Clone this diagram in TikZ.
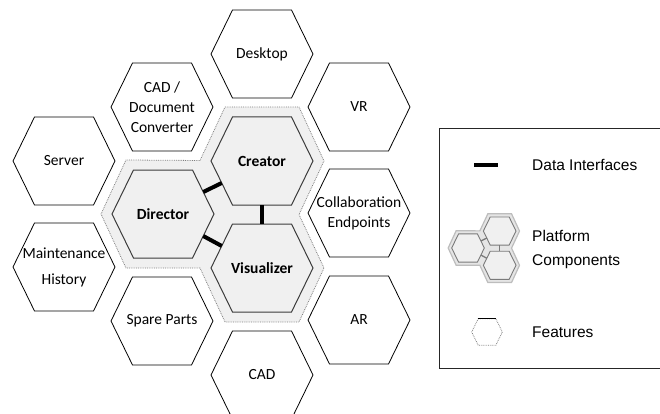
\documentclass[tikz,border=0pt]{standalone}
\usepackage{fontspec}
\setmainfont{Carlito}
\newfontfamily\legfont{Liberation Sans}
\usetikzlibrary{calc}
\definecolor{compfill}{HTML}{F0F0F0}
\definecolor{compedge}{HTML}{3C3C3C}
\definecolor{unionedge}{HTML}{7F7F7F}
\definecolor{minering}{HTML}{BDBDBD}
\definecolor{miniedge}{HTML}{7A7A7A}
% #1 hex line style, #2 text style, #3 name, #4 centre, #5 text
\newcommand\hexnode[5]{%
  \path (#4) +(-29.5,-44) coordinate (#3-tl) +(29.5,-44) coordinate (#3-tr)
        +(51,0) coordinate (#3-r) +(29.5,44) coordinate (#3-br)
        +(-29.5,44) coordinate (#3-bl) +(-51,0) coordinate (#3-l);
  \draw[#1] (#3-tl) -- (#3-tr) -- (#3-r) -- (#3-br) -- (#3-bl) -- (#3-l) -- cycle;
  \node[#2] (#3) at (#4) {#5};}
\begin{document}
\begin{tikzpicture}[x=1pt,y=-1pt,
  featbox/.style={align=center,inner sep=0pt,font=\fontsize{15.5}{20}\selectfont},
  featline/.style={draw=black,line width=0.8pt},
  compbox/.style={align=center,inner sep=0pt,font=\fontsize{15.5}{20}\selectfont\bfseries},
  compline/.style={draw=compedge,fill=compfill,line width=1pt},
  unionline/.style={draw=unionedge,fill=compfill,densely dotted,line width=0.8pt},
  iface/.style={line width=4pt,black},
  miniunion/.style={draw=minering,fill=compfill!90!gray,line width=1.2pt},
  minicomp/.style={draw=miniedge,fill=compfill,line width=0.9pt},
  miniiface/.style={draw=miniedge,line width=1.3pt},
  legtext/.style={anchor=west,align=left,inner sep=0pt,font=\legfont\fontsize{15.5}{24}\selectfont},
  legbox/.style={draw=black!85,line width=1pt}]
\useasboundingbox (0,0) rectangle (660,414);

% platform group background
\draw[unionline] (225,107) -- (299,107) -- (324,161) -- (299,214.5) -- (324,268)
  -- (299,322) -- (225,322) -- (200,268) -- (126,268) -- (101,214) -- (126,160)
  -- (200,160.5) -- cycle;

% platform components
\hexnode{compline}{compbox}{cre}{262,161}{Creator}
\hexnode{compline}{compbox}{dir}{163,214}{Director}
\hexnode{compline}{compbox}{vis}{262,268}{Visualizer}

% data interfaces
\draw[iface] ($(dir-tr)!.5!(dir-r)$) -- ($(cre-l)!.5!(cre-bl)$);
\draw[iface] ($(dir-br)!.5!(dir-r)$) -- ($(vis-l)!.5!(vis-tl)$);
\draw[iface] (cre.center |- cre-bl) -- (vis.center |- vis-tl);

% features
\hexnode{featline}{featbox}{desk}{262,54}{Desktop}
\hexnode{featline}{featbox}{conv}{162,107}{CAD /\\Document\\Converter}
\hexnode{featline}{featbox}{serv}{64,161}{Server}
\hexnode{featline}{featbox,font=\fontsize{15.5}{26}\selectfont}{maint}{64,267}{Maintenance\\History}
\hexnode{featline}{featbox}{spare}{162,321}{Spare Parts}
\hexnode{featline}{featbox}{cad}{262,375}{CAD}
\hexnode{featline}{featbox}{vr}{359,107}{VR}
\hexnode{featline}{featbox}{collab}{359,213}{Collaboration\\Endpoints}
\hexnode{featline}{featbox}{ar}{359,320}{AR}

% legend
\draw[legbox] (439,129) rectangle (663,368);
\coordinate (li1) at (474,165);
\coordinate (li2) at (498,165);
\draw[iface] (li1) -- (li2);
\node[legtext] (lt1) at (532,165) {Data Interfaces};

\begin{scope}[shift={(468,248)},scale=0.32]
  \draw[miniunion] (62,-107) -- (136,-107) -- (161,-53) -- (136,0.5) -- (161,54)
    -- (136,108) -- (62,108) -- (37,54) -- (-37,54) -- (-62,0) -- (-37,-54)
    -- (37,-53.5) -- cycle;
  \hexnode{minicomp}{inner sep=0pt}{mcre}{99,-53}{}
  \hexnode{minicomp}{inner sep=0pt}{mdir}{0,0}{}
  \hexnode{minicomp}{inner sep=0pt}{mvis}{99,54}{}
  \draw[miniiface] ($(mdir-tr)!.5!(mdir-r)$) -- ($(mcre-l)!.5!(mcre-bl)$);
  \draw[miniiface] ($(mdir-br)!.5!(mdir-r)$) -- ($(mvis-l)!.5!(mvis-tl)$);
  \draw[miniiface] (mcre.center |- mcre-bl) -- (mvis.center |- mvis-tl);
\end{scope}
\node[legtext] (lt2) at (532,249) {Platform\\Components};

\begin{scope}[shift={(487,332)},scale=0.3]
  \hexnode{draw=gray,densely dotted,line width=0.8pt}{inner sep=0pt}{mfeat}{0,0}{}
  \draw[black,line width=0.9pt] (mfeat-tl) -- (mfeat-tr);
\end{scope}
\node[legtext] (lt3) at (532,332) {Features};
\end{tikzpicture}
\end{document}
